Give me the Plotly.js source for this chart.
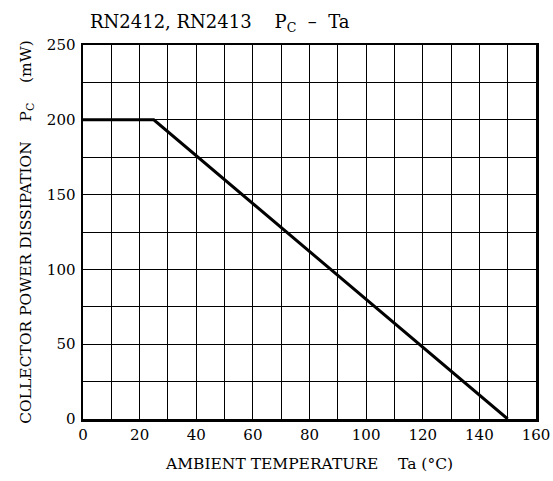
<!DOCTYPE html>
<html><head><meta charset="utf-8">
<script src="https://cdn.plot.ly/plotly-3.0.1.min.js"></script>
<style>body{margin:0;background:#fff}#c{width:553px;height:481px}</style>
</head><body><div id="c"></div>
<script>
const ta = [0, 25, 150];
const pc = [200, 200, 0];
const xTicks = [0, 20, 40, 60, 80, 100, 120, 140, 160];
const yTicks = [0, 50, 100, 150, 200, 250];
const F = '"DejaVu Serif", "Liberation Serif", serif';
Plotly.newPlot('c', [{
  x: ta, y: pc, mode: 'lines', line: {color: '#000', width: 3}, hoverinfo: 'skip'
}], {
  width: 553, height: 481,
  margin: {l: 83, r: 17, t: 45, b: 62},
  paper_bgcolor: '#fff', plot_bgcolor: '#fff',
  showlegend: false,
  font: {family: F, color: '#000'},
  xaxis: {
    range: [0, 160], tickvals: xTicks, ticktext: xTicks.map(String),
    showgrid: true, gridcolor: '#000', gridwidth: 1,
    minor: {dtick: 10, tick0: 0, showgrid: true, gridcolor: '#000', gridwidth: 1},
    showline: true, linecolor: '#000', linewidth: 2.5, mirror: true,
    ticks: '', tickfont: {family: F, size: 15}, zeroline: false,
    title: {text: 'AMBIENT TEMPERATURE&nbsp;&nbsp;&nbsp;&nbsp;Ta (°C)', font: {family: F, size: 15.5}, standoff: 16}
  },
  yaxis: {
    range: [0, 250], tickvals: yTicks, ticktext: yTicks.map(String),
    showgrid: true, gridcolor: '#000', gridwidth: 1,
    minor: {dtick: 25, tick0: 0, showgrid: true, gridcolor: '#000', gridwidth: 1},
    showline: true, linecolor: '#000', linewidth: 2.5, mirror: true,
    ticks: '', tickfont: {family: F, size: 15}, zeroline: false, ticklabelstandoff: 2,
    title: {text: 'COLLECTOR POWER DISSIPATION&nbsp;&nbsp;&nbsp;&nbsp;P<sub>C</sub>&nbsp;&nbsp;&nbsp;&nbsp;(mW)', font: {family: F, size: 15.5}, standoff: 12}
  },
  annotations: [{
    xref: 'paper', yref: 'paper', x: (88 - 83) / 453, y: 1, yshift: 8, xanchor: 'left', yanchor: 'bottom',
    showarrow: false, text: 'RN2412, RN2413&nbsp;&nbsp;&nbsp;&nbsp;P<sub>C</sub>&nbsp;&nbsp;–&nbsp;&nbsp;Ta', font: {family: F, size: 18}
  }]
}, {staticPlot: true});
</script></body></html>
